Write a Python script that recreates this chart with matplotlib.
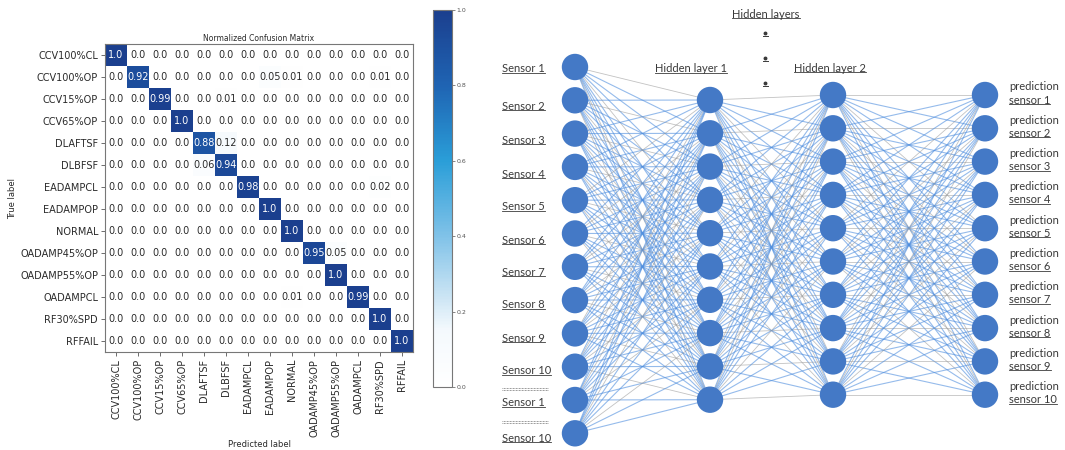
import matplotlib
matplotlib.use("Agg")
import matplotlib.pyplot as plt
import numpy as np
from matplotlib.colors import LinearSegmentedColormap
from matplotlib.patches import Circle
from matplotlib.lines import Line2D

plt.rcParams["font.family"] = ["DejaVu Sans"]

# ---------------- data ----------------
classes = ["CCV100%CL", "CCV100%OP", "CCV15%OP", "CCV65%OP", "DLAFTSF", "DLBFSF",
           "EADAMPCL", "EADAMPOP", "NORMAL", "OADAMP45%OP", "OADAMP55%OP",
           "OADAMPCL", "RF30%SPD", "RFFAIL"]
cm_values = [
    [1.0, 0.0, 0.0, 0.0, 0.0, 0.0, 0.0, 0.0, 0.0, 0.0, 0.0, 0.0, 0.0, 0.0],
    [0.0, 0.92, 0.0, 0.0, 0.0, 0.0, 0.0, 0.05, 0.01, 0.0, 0.0, 0.0, 0.01, 0.0],
    [0.0, 0.0, 0.99, 0.0, 0.0, 0.01, 0.0, 0.0, 0.0, 0.0, 0.0, 0.0, 0.0, 0.0],
    [0.0, 0.0, 0.0, 1.0, 0.0, 0.0, 0.0, 0.0, 0.0, 0.0, 0.0, 0.0, 0.0, 0.0],
    [0.0, 0.0, 0.0, 0.0, 0.88, 0.12, 0.0, 0.0, 0.0, 0.0, 0.0, 0.0, 0.0, 0.0],
    [0.0, 0.0, 0.0, 0.0, 0.06, 0.94, 0.0, 0.0, 0.0, 0.0, 0.0, 0.0, 0.0, 0.0],
    [0.0, 0.0, 0.0, 0.0, 0.0, 0.0, 0.98, 0.0, 0.0, 0.0, 0.0, 0.0, 0.02, 0.0],
    [0.0, 0.0, 0.0, 0.0, 0.0, 0.0, 0.0, 1.0, 0.0, 0.0, 0.0, 0.0, 0.0, 0.0],
    [0.0, 0.0, 0.0, 0.0, 0.0, 0.0, 0.0, 0.0, 1.0, 0.0, 0.0, 0.0, 0.0, 0.0],
    [0.0, 0.0, 0.0, 0.0, 0.0, 0.0, 0.0, 0.0, 0.0, 0.95, 0.05, 0.0, 0.0, 0.0],
    [0.0, 0.0, 0.0, 0.0, 0.0, 0.0, 0.0, 0.0, 0.0, 0.0, 1.0, 0.0, 0.0, 0.0],
    [0.0, 0.0, 0.0, 0.0, 0.0, 0.0, 0.0, 0.0, 0.01, 0.0, 0.0, 0.99, 0.0, 0.0],
    [0.0, 0.0, 0.0, 0.0, 0.0, 0.0, 0.0, 0.0, 0.0, 0.0, 0.0, 0.0, 1.0, 0.0],
    [0.0, 0.0, 0.0, 0.0, 0.0, 0.0, 0.0, 0.0, 0.0, 0.0, 0.0, 0.0, 0.0, 1.0],
]
cbar_ticks = [0.0, 0.2, 0.4, 0.6, 0.8, 1.0]

layer_sizes = [12, 10, 10, 10]
input_labels = ["Sensor 1", "Sensor 2", "Sensor 3", "Sensor 4", "Sensor 5",
                "Sensor 6", "Sensor 7", "Sensor 8", "Sensor 9", "Sensor 10",
                "Sensor 1", "Sensor 10"]
output_labels = ["sensor %d" % i for i in range(1, 11)]
hidden_titles = ["Hidden layer 1", "Hidden layer 2"]
hidden_group_title = "Hidden layers"

# ---------------- figure ----------------
W, H = 1065, 450
fig = plt.figure(figsize=(W / 100, H / 100), dpi=100)
fig.patch.set_facecolor("white")

def fbox(x0, y0, x1, y1):
    return [x0 / W, 1 - y1 / H, (x1 - x0) / W, (y1 - y0) / H]

cmap = LinearSegmentedColormap.from_list(
    "cb", [(0.0, "#ffffff"), (0.15, "#f4f9fd"), (0.25, "#c6e2f3"), (0.4, "#80c2e8"),
           (0.6, "#2a9ed8"), (0.8, "#1f64b3"), (1.0, "#1b3f8e")])

txt_col = "#2a2a2a"

# confusion matrix
cm = np.array(cm_values)
ax = fig.add_axes(fbox(105, 44, 413, 352))
im = ax.imshow(cm, cmap=cmap, vmin=0, vmax=1, interpolation="nearest", aspect="auto")
n = len(classes)
for i in range(n):
    for j in range(n):
        v = cm_values[i][j]
        ax.text(j, i, str(v), ha="center", va="center", fontsize=7,
                color="white" if v > 0.5 else txt_col)
ax.set_xticks(range(n))
ax.set_yticks(range(n))
ax.set_xticklabels(classes, rotation=90, fontsize=7)
ax.set_yticklabels(classes, fontsize=7)
ax.tick_params(length=3, width=0.6, colors="#555555", pad=2)
for lab in ax.get_xticklabels() + ax.get_yticklabels():
    lab.set_color(txt_col)
for s in ax.spines.values():
    s.set_color("#777777")
    s.set_linewidth(0.8)
ax.set_title("Normalized Confusion Matrix", fontsize=5.5, color=txt_col, pad=2)
ax.set_ylabel("True label", fontsize=6, color=txt_col)
ax.yaxis.set_label_coords(-0.285, 0.5)
ax.set_xlabel("Predicted label", fontsize=6, color=txt_col)
ax.xaxis.set_label_coords(0.5, -0.285)

# colorbar
cax = fig.add_axes(fbox(433, 10, 452, 387))
cb = fig.colorbar(im, cax=cax, ticks=cbar_ticks)
cb.ax.tick_params(labelsize=4.5, length=2, width=0.5, colors="#555555", pad=1)
cb.outline.set_edgecolor("#777777")
cb.outline.set_linewidth(0.8)

# ---------------- neural network ----------------
nax = fig.add_axes(fbox(470, 0, 1065, 450))
nax.set_xlim(470, 1065)
nax.set_ylim(450, 0)
nax.axis("off")

layer_x = [575, 710, 833, 985]
layer_y0 = [67, 100, 95, 95]
spacing = 33.3
node_r = 13.2
node_color = "#4479c6"

positions = []
for L, cnt in enumerate(layer_sizes):
    positions.append([(layer_x[L], layer_y0[L] + spacing * k) for k in range(cnt)])

for L in range(len(layer_sizes) - 1):
    for a, (x0, y0) in enumerate(positions[L]):
        for b, (x1, y1) in enumerate(positions[L + 1]):
            if (a * 3 + b) % 4 == 0:
                col, al, lw = "#9a9a9a", 0.6, 0.6
            else:
                col, al, lw = "#4f8ede", 0.6, 0.8
            nax.plot([x0, x1], [y0, y1], color=col, alpha=al, lw=lw,
                     solid_capstyle="butt", zorder=1)

for layer in positions:
    for (x, y) in layer:
        nax.add_patch(Circle((x, y), node_r, facecolor=node_color,
                             edgecolor="none", zorder=3))

lab_font = dict(family=["Lato", "DejaVu Sans"], fontsize=8, color="#3a3a3a")
underline_texts = []

input_label_y = [69, 106, 140, 174, 207, 240, 272, 305, 338, 371, 403, 438]
for lbl, y in zip(input_labels, input_label_y):
    t = nax.text(502, y, lbl, ha="left", va="center", **lab_font)
    underline_texts.append(t)

for y in (389, 422):
    nax.plot([502, 548], [y - 1, y - 1], color="#777777", lw=0.6, ls=(0, (1, 0.8)))
    nax.plot([502, 548], [y + 1, y + 1], color="#777777", lw=0.6, ls=(0, (1, 0.8)))

t = nax.text(691, 69, hidden_titles[0], ha="center", va="center", **lab_font)
underline_texts.append(t)
t = nax.text(830, 68, hidden_titles[1], ha="center", va="center", **lab_font)
underline_texts.append(t)
t = nax.text(766, 14, hidden_group_title, ha="center", va="center", **lab_font)
underline_texts.append(t)

for y in (33, 58, 83):
    nax.plot([765], [y], marker="o", ms=1.8, color="#3a3a3a")
    nax.plot([762.5, 767.5], [y + 3, y + 3], color="#3a3a3a", lw=0.7)

for k, lbl in enumerate(output_labels):
    yc = positions[3][k][1]
    nax.text(1009, yc - 8, "prediction", ha="left", va="center", **lab_font)
    t = nax.text(1009, yc + 5, lbl, ha="left", va="center", **lab_font)
    underline_texts.append(t)

fig.canvas.draw()
for t in underline_texts:
    bb = t.get_window_extent()
    yline = bb.y0 + 1.5
    fig.add_artist(Line2D([bb.x0 / W, bb.x1 / W], [yline / H, yline / H],
                          transform=fig.transFigure, color="#3a3a3a", lw=0.6))

fig.savefig("out.png", dpi=100, facecolor="white")
